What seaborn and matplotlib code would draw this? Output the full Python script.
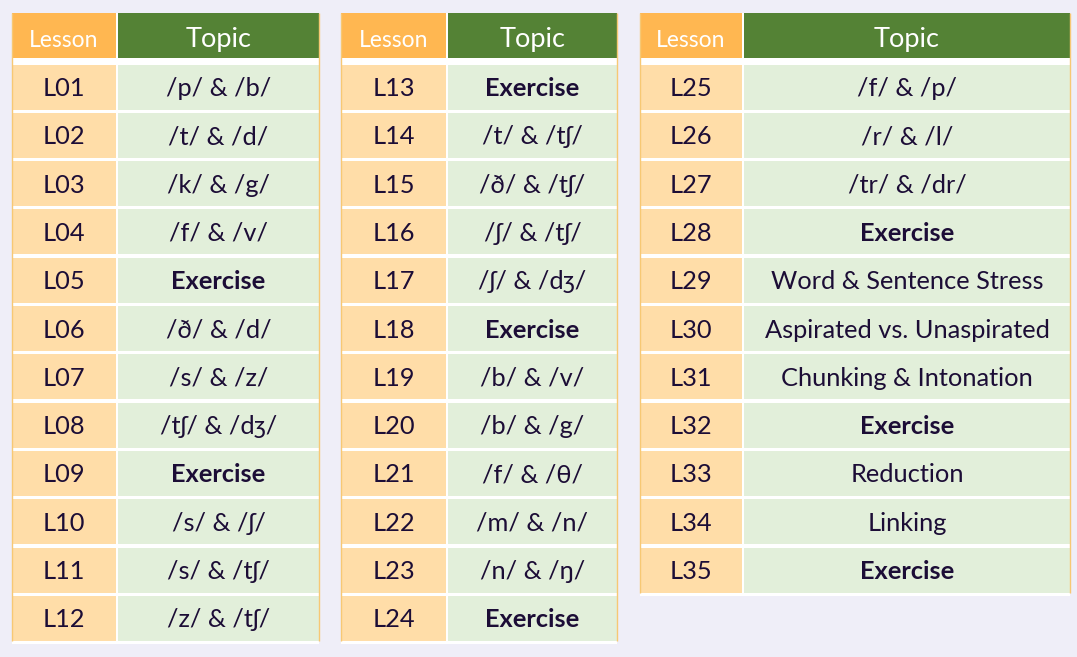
import matplotlib.pyplot as plt
import seaborn as sns

# Lesson tables data
lessons_1 = ["L01", "L02", "L03", "L04", "L05", "L06", "L07", "L08", "L09", "L10", "L11", "L12"]
topics_1 = ["/p/ & /b/", "/t/ & /d/", "/k/ & /g/", "/f/ & /v/", "Exercise", "/ð/ & /d/",
            "/s/ & /z/", "/tʃ/ & /dʒ/", "Exercise", "/s/ & /ʃ/", "/s/ & /tʃ/", "/z/ & /tʃ/"]

lessons_2 = ["L13", "L14", "L15", "L16", "L17", "L18", "L19", "L20", "L21", "L22", "L23", "L24"]
topics_2 = ["Exercise", "/t/ & /tʃ/", "/ð/ & /tʃ/", "/ʃ/ & /tʃ/", "/ʃ/ & /dʒ/", "Exercise",
            "/b/ & /v/", "/b/ & /g/", "/f/ & /θ/", "/m/ & /n/", "/n/ & /ŋ/", "Exercise"]

lessons_3 = ["L25", "L26", "L27", "L28", "L29", "L30", "L31", "L32", "L33", "L34", "L35"]
topics_3 = ["/f/ & /p/", "/r/ & /l/", "/tr/ & /dr/", "Exercise", "Word & Sentence Stress",
            "Aspirated vs. Unaspirated", "Chunking & Intonation", "Exercise", "Reduction",
            "Linking", "Exercise"]

BG = "#EFEEF8"
LESSON_HEAD = "#FFB751"
TOPIC_HEAD = "#548235"
LESSON_CELL = "#FFDDA8"
TOPIC_CELL = "#E2EFDA"
TEXT = "#1C0D36"
EDGE = "#F7C874"

sns.set_theme(style="white")
plt.rcParams["font.family"] = ["Lato", "DejaVu Sans"]

fig = plt.figure(figsize=(10.77, 6.57), dpi=100)
fig.patch.set_facecolor(BG)
ax = fig.add_axes([0, 0, 1, 1])
ax.set_facecolor(BG)
ax.set_xlim(0, 1077)
ax.set_ylim(657, 0)
ax.axis("off")

# (lessons, topics, left x, lesson width, topic width)
tables = [
    (lessons_1, topics_1, 12, 104, 201),
    (lessons_2, topics_2, 341, 105, 169),
    (lessons_3, topics_3, 640, 102, 326),
]

head_top, head_h = 12.5, 45
row_top, row_step, row_h = 64.5, 48.3, 45

for lessons, topics, x0, w1, w2 in tables:
    n = len(lessons)
    x1 = x0 + w1 + 2
    bottom = row_top + (n - 1) * row_step + row_h + 3
    # white grid background
    ax.barh((head_top + bottom) / 2, x1 + w2 - x0, left=x0,
             height=bottom - head_top, color="white", linewidth=0)
    # header
    ax.barh(head_top + head_h / 2, w1, left=x0, height=head_h, color=LESSON_HEAD, linewidth=0)
    ax.barh(head_top + head_h / 2, w2, left=x1, height=head_h, color=TOPIC_HEAD, linewidth=0)
    ax.text(x0 + w1 / 2, head_top + head_h - 10.5, "Lesson", ha="center", va="baseline",
            color="white", fontsize=16.5)
    ax.text(x1 + w2 / 2, head_top + head_h - 10.5, "Topic", ha="center", va="baseline",
            color="white", fontsize=19.5)
    # rows
    centers = [row_top + i * row_step + row_h / 2 for i in range(n)]
    ax.barh(centers, w1, left=x0, height=row_h, color=LESSON_CELL, linewidth=0)
    ax.barh(centers, w2, left=x1, height=row_h, color=TOPIC_CELL, linewidth=0)
    for yc, les, top in zip(centers, lessons, topics):
        ax.text(x0 + w1 / 2, yc + 9, les, ha="center", va="baseline",
                color=TEXT, fontsize=18.3)
        ax.text(x1 + w2 / 2, yc + 9, top, ha="center", va="baseline", color=TEXT,
                fontsize=18.3, fontweight="bold" if top == "Exercise" else "normal")
    # thin outer edge lines
    ax.vlines([x0, x1 + w2], head_top, bottom - 3, color=EDGE, linewidth=1)

fig.savefig("out.png", dpi=100, facecolor=BG)
